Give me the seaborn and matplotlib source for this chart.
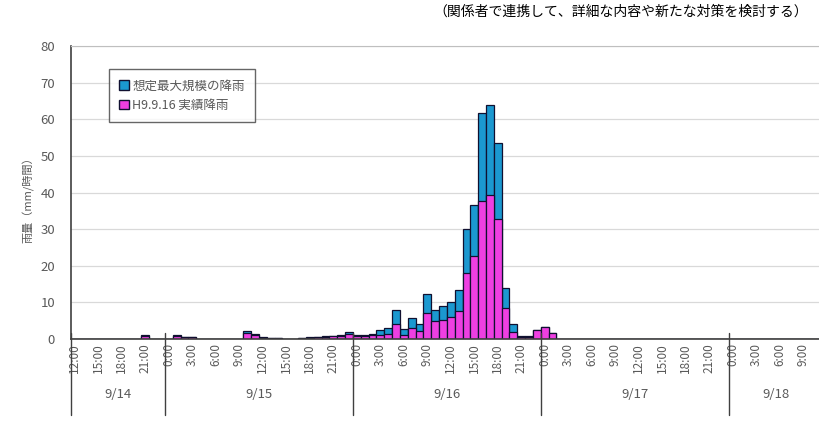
import pandas as pd
import numpy as np
import matplotlib
matplotlib.use("Agg")
import matplotlib.pyplot as plt
from matplotlib.patches import Patch
import seaborn as sns

# hourly rainfall (mm/h), 9/14 12:00 -> 9/18 11:00
days = ["9/14", "9/15", "9/16", "9/17", "9/18"]
day_hours = [12, 24, 24, 24, 12]

max_914 = [0, 0, 0, 0, 0, 0, 0, 0, 0, 1.1, 0, 0]
max_915 = [0, 1.0, 0.6, 0.6, 0, 0, 0, 0, 0, 0, 2.2, 1.5,
           0.5, 0.4, 0.3, 0, 0, 0.3, 0.5, 0.6, 0.7, 0.8, 1.0, 2.0]
max_916 = [1.1, 1.2, 1.4, 2.5, 3.1, 8.0, 2.7, 5.7, 4.1, 12.3, 8.0, 9.0,
           10.2, 13.5, 30.0, 36.6, 61.7, 64.0, 53.4, 13.8, 4.1, 0.8, 0.9, 2.4]
max_917 = [3.3, 1.6, 0, 0, 0, 0, 0, 0, 0, 0, 0, 0,
           0, 0, 0, 0, 0, 0, 0, 0, 0, 0, 0, 0]
max_918 = [0, 0, 0, 0, 0, 0, 0, 0, 0, 0, 0, 0]

obs_914 = [0, 0, 0, 0, 0, 0, 0, 0, 0, 0.9, 0, 0]
obs_915 = [0, 0.8, 0.5, 0.5, 0, 0, 0, 0, 0, 0, 1.6, 1.1,
           0.4, 0.3, 0.2, 0, 0, 0.2, 0.4, 0.5, 0.6, 0.7, 0.8, 1.5]
obs_916 = [0.8, 0.9, 1.0, 1.0, 1.5, 4.0, 1.2, 3.0, 2.3, 7.0, 5.0, 5.2,
           6.0, 7.7, 18.0, 22.7, 37.8, 39.3, 32.7, 8.4, 2.0, 0.5, 0.6, 2.4]
obs_917 = [3.3, 1.6, 0, 0, 0, 0, 0, 0, 0, 0, 0, 0,
           0, 0, 0, 0, 0, 0, 0, 0, 0, 0, 0, 0]
obs_918 = [0, 0, 0, 0, 0, 0, 0, 0, 0, 0, 0, 0]

tick_labels = ["12:00", "15:00", "18:00", "21:00",
               "0:00", "3:00", "6:00", "9:00", "12:00", "15:00", "18:00", "21:00",
               "0:00", "3:00", "6:00", "9:00", "12:00", "15:00", "18:00", "21:00",
               "0:00", "3:00", "6:00", "9:00", "12:00", "15:00", "18:00", "21:00",
               "0:00", "3:00", "6:00", "9:00"]

label_max = "想定最大規模の降雨"
label_obs = "H9.9.16 実績降雨"

df = pd.DataFrame({
    "max": max_914 + max_915 + max_916 + max_917 + max_918,
    "obs": obs_914 + obs_915 + obs_916 + obs_917 + obs_918,
})
df["hour"] = np.arange(len(df))

sns.set_style("white")
plt.rcParams['font.family'] = ['Noto Sans CJK JP', 'DejaVu Sans']

blue = "#1B98D0"
pink = "#EE3FE2"
grey = "#595959"

fig = plt.figure(figsize=(8.2, 4.21), dpi=100)
ax = fig.add_axes([71 / 820, 1 - 339 / 421, 751.7 / 820, 293 / 421])

sns.barplot(data=df, x="hour", y="max", color=blue, width=1.0,
            edgecolor="#101030", linewidth=0.9, saturation=1, ax=ax)
sns.barplot(data=df, x="hour", y="obs", color=pink, width=1.0,
            edgecolor="#101030", linewidth=0.9, saturation=1, ax=ax)

ax.set_xlim(-0.5, len(df) - 0.5)
ax.set_ylim(0, 80)
ax.set_yticks(np.arange(0, 81, 10))
ax.yaxis.grid(True, color="#d9d9d9", linewidth=0.9)
ax.set_axisbelow(True)
ax.tick_params(axis="y", labelsize=9.5, labelcolor=grey, length=0, pad=11.5)

ax.set_xticks(np.arange(0, len(df), 3))
ax.set_xticklabels(tick_labels, rotation=90, fontsize=8.5, color=grey)
ax.tick_params(axis="x", length=0, pad=3)
ax.set_xlabel("")
ax.set_ylabel("")

for s in ["left", "bottom"]:
    ax.spines[s].set_color("#404040")
    ax.spines[s].set_linewidth(1.2)
ax.spines["top"].set_color("#bfbfbf")
ax.spines["right"].set_visible(False)

# day separators and day labels under the axis
trans = ax.get_xaxis_transform()
edges = np.concatenate([[0], np.cumsum(day_hours)]) - 0.5
for e in edges[:-1]:
    ax.plot([e, e], [0.02, -0.26], transform=trans, color="#404040",
            linewidth=1.0, clip_on=False)
for d, a, b in zip(days, edges[:-1], edges[1:]):
    ax.text((a + b) / 2, -0.19, d, transform=trans, ha="center", va="center",
            fontsize=9.5, color=grey)

handles = [Patch(facecolor=blue, edgecolor="#101030", label=label_max),
           Patch(facecolor=pink, edgecolor="#101030", label=label_obs)]
leg = ax.legend(handles=handles, loc="upper left", bbox_to_anchor=(0.05, 0.92),
                fontsize=9, frameon=True, fancybox=False, handlelength=0.8,
                handleheight=0.8, handletextpad=0.3, borderpad=0.8,
                labelspacing=0.5, borderaxespad=0)
leg.get_frame().set_edgecolor("#404040")
leg.get_frame().set_linewidth(1.0)
for t in leg.get_texts():
    t.set_color(grey)

fig.text(28 / 820, 1 - 197 / 421, "雨量（mm/時間）", rotation=90,
         ha="center", va="center", fontsize=8, color=grey)
fig.text(808 / 820, 1 - 12 / 421,
         "（関係者で連携して、詳細な内容や新たな対策を検討する）",
         ha="right", va="center", fontsize=10, color="black")

fig.savefig("out.png", dpi=100)
